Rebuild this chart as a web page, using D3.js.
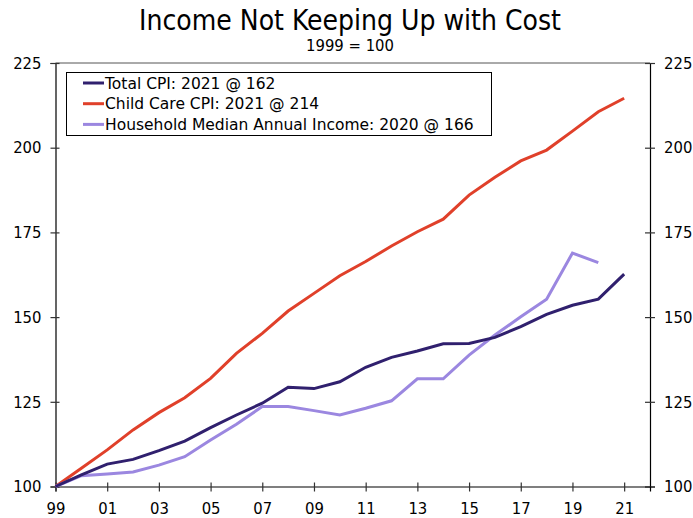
<!DOCTYPE html>
<html>
<head>
<meta charset="utf-8">
<script src="https://cdn.jsdelivr.net/npm/d3@7/dist/d3.min.js"></script>
<style>
  html, body { margin: 0; padding: 0; background: #fff; }
  svg { display: block; }
</style>
</head>
<body>
<svg id="chart" width="693" height="518"></svg>
<script>
// Index values, 1999 = 100
const years = d3.range(1999, 2022);
const totalCPI = [100, 103.4, 106.6, 108.0, 110.6, 113.4, 117.4, 121.1, 124.6, 129.3, 128.9, 130.9,
                  135.2, 138.1, 140.0, 142.1, 142.2, 144.0, 147.2, 150.8, 153.5, 155.3, 162.7];
const childCareCPI = [100, 105.4, 110.8, 116.7, 121.8, 126.2, 131.9, 139.3, 145.2, 151.8, 157.0, 162.2,
                      166.4, 171.0, 175.2, 178.9, 186.0, 191.3, 196.1, 199.3, 204.9, 210.6, 214.6];
const medianIncome = [100, 103.2, 103.7, 104.3, 106.3, 108.8, 113.7, 118.4, 123.6, 123.6, 122.4, 121.1,
                      123.1, 125.3, 131.8, 131.8, 138.8, 144.7, 150.1, 155.3, 168.9, 166.1];
const yTicks = [100, 125, 150, 175, 200, 225];
const xTicks = d3.range(1999, 2022, 2);
const seriesNames = ["Total CPI: 2021 @ 162", "Child Care CPI: 2021 @ 214",
                     "Household Median Annual Income: 2020 @ 166"];
const seriesColors = ["#30206e", "#e0402a", "#9b87e0"];

const svg = d3.select("#chart");
const plotLeft = 55.5, plotRight = 650, plotTop = 63, plotBottom = 486.5;

const x = d3.scaleLinear().domain([1999, 2022]).range([plotLeft, plotRight]);
const y = d3.scaleLinear().domain([100, 225]).range([plotBottom, plotTop]);

// Title
svg.append("text").attr("x", 350).attr("y", 30).attr("text-anchor", "middle")
  .attr("font-family", "DejaVu Sans Condensed, sans-serif").attr("font-size", 28)
  .attr("fill", "#000").text("Income Not Keeping Up with Cost");
svg.append("text").attr("x", 350).attr("y", 51).attr("text-anchor", "middle")
  .attr("font-family", "DejaVu Sans Condensed, sans-serif").attr("font-size", 16.5)
  .attr("fill", "#000").text("1999 = 100");

// Frame top line
svg.append("line").attr("x1", plotLeft).attr("x2", plotRight).attr("y1", plotTop).attr("y2", plotTop)
  .attr("stroke", "#555").attr("stroke-width", 1);

const tickFont = "DejaVu Sans Condensed, sans-serif";

// Left axis
const yLeft = svg.append("g").attr("transform", `translate(${plotLeft},0)`)
  .call(d3.axisLeft(y).tickValues(yTicks).tickSize(5).tickPadding(9));
// Right axis
const yRight = svg.append("g").attr("transform", `translate(${plotRight},0)`)
  .call(d3.axisRight(y).tickValues(yTicks).tickSize(5).tickPadding(9));
// Bottom axis
const xAxis = svg.append("g").attr("transform", `translate(0,${plotBottom})`)
  .call(d3.axisBottom(x).tickValues(xTicks).tickSize(5).tickPadding(8)
    .tickFormat(d => String(d % 100).padStart(2, "0")));

[yLeft, yRight, xAxis].forEach(g => {
  g.select(".domain").attr("stroke", "#000").attr("stroke-width", 1.2);
  g.selectAll(".tick line").attr("stroke", "#333").attr("stroke-width", 1.2);
  g.selectAll(".tick text").attr("font-family", tickFont).attr("font-size", 16.5).attr("fill", "#000");
});
// Ticks cross the axis lines
yLeft.selectAll(".tick line").attr("x1", 4).attr("x2", -5);
yRight.selectAll(".tick line").attr("x1", -5).attr("x2", 5);
xAxis.selectAll(".tick line").attr("y1", -4).attr("y2", 5);
xAxis.selectAll(".tick text").attr("dy", "0.85em");

// Series lines
const series = [totalCPI, childCareCPI, medianIncome];
const line = d3.line().x((d, i) => x(years[i])).y(d => y(d));
[1, 2, 0].forEach(k => {
  svg.append("path").datum(series[k])
    .attr("fill", "none").attr("stroke", seriesColors[k]).attr("stroke-width", 3)
    .attr("stroke-linejoin", "miter").attr("d", line);
});

// Legend
const lg = svg.append("g");
lg.append("rect").attr("x", 66.5).attr("y", 72.5).attr("width", 425).attr("height", 63)
  .attr("fill", "#fff").attr("stroke", "#000").attr("stroke-width", 1);
seriesNames.forEach((name, i) => {
  const cy = 83 + i * 20.7;
  lg.append("line").attr("x1", 83).attr("x2", 104).attr("y1", cy).attr("y2", cy)
    .attr("stroke", seriesColors[i]).attr("stroke-width", 3);
  lg.append("text").attr("x", 105).attr("y", cy).attr("dy", "0.36em")
    .attr("font-family", "DejaVu Sans, Verdana, sans-serif").attr("font-size", 15.5)
    .attr("fill", "#000").text(name);
});
</script>
</body>
</html>
